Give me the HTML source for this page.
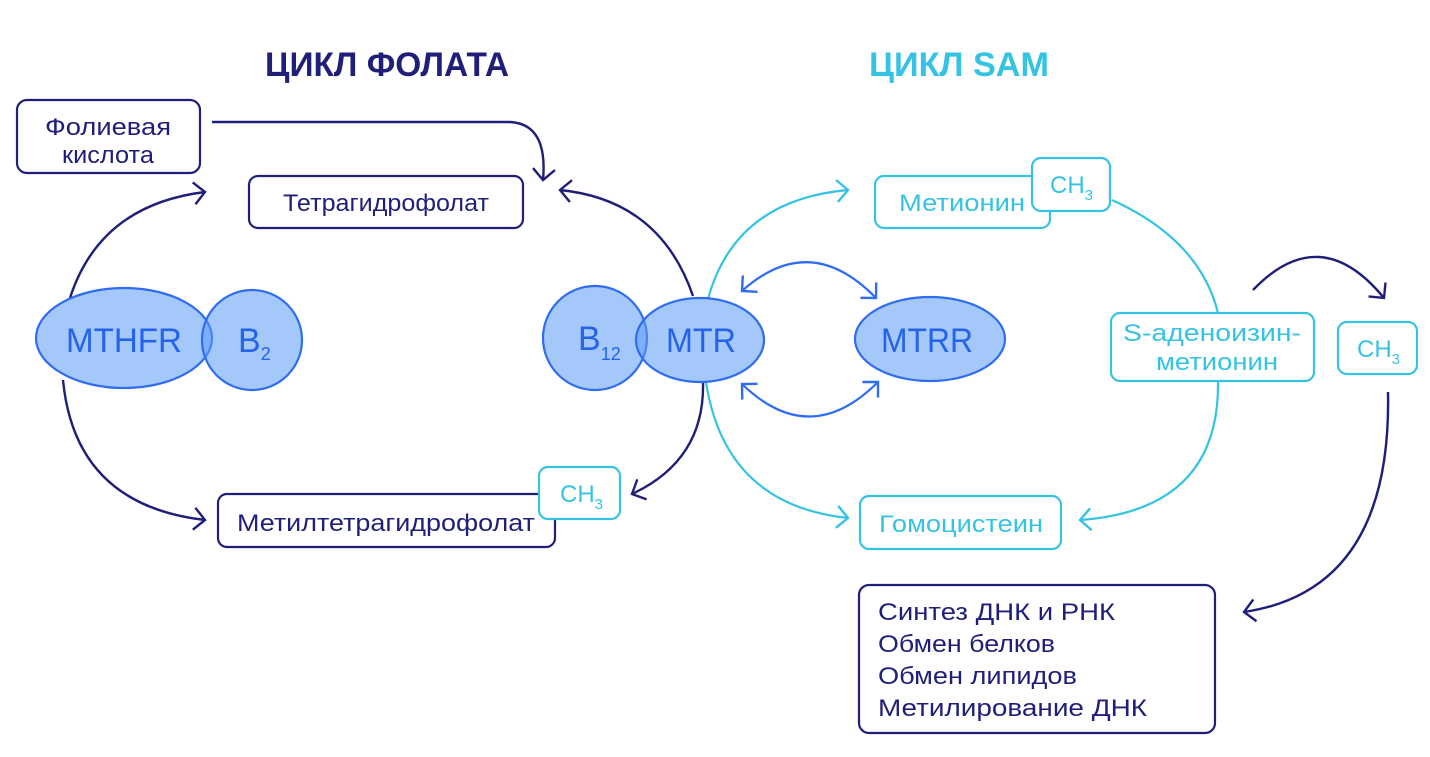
<!DOCTYPE html>
<html><head><meta charset="utf-8"><style>
html,body{margin:0;padding:0;background:#fff;}
svg{display:block;}
text{font-family:"Liberation Sans Narrow","Liberation Sans",sans-serif;}
</style></head><body>
<svg width="1430" height="757" viewBox="0 0 1430 757" xmlns="http://www.w3.org/2000/svg">
<defs>
<marker id="an" markerWidth="30" markerHeight="30" refX="13" refY="13" orient="auto" markerUnits="userSpaceOnUse">
<path d="M2,2 L13,13 L2,24" fill="none" stroke="#1f1f7a" stroke-width="2.4"/></marker>
<marker id="ac" markerWidth="30" markerHeight="30" refX="13" refY="13" orient="auto" markerUnits="userSpaceOnUse">
<path d="M2,2 L13,13 L2,24" fill="none" stroke="#35c3e4" stroke-width="2.4"/></marker>
<marker id="ab" markerWidth="30" markerHeight="30" refX="13" refY="13" orient="auto" markerUnits="userSpaceOnUse">
<path d="M2,2 L13,13 L2,24" fill="none" stroke="#2f6cf0" stroke-width="2.4"/></marker>
<marker id="abs" markerWidth="30" markerHeight="30" refX="13" refY="13" orient="auto-start-reverse" markerUnits="userSpaceOnUse">
<path d="M2,2 L13,13 L2,24" fill="none" stroke="#2f6cf0" stroke-width="2.4"/></marker>
</defs>

<text x="387" y="76" font-size="34" font-weight="bold" fill="#1f1f7a" text-anchor="middle" textLength="244" lengthAdjust="spacingAndGlyphs">ЦИКЛ ФОЛАТА</text>
<text x="959" y="76" font-size="34" font-weight="bold" fill="#35c3e4" text-anchor="middle" textLength="180" lengthAdjust="spacingAndGlyphs">ЦИКЛ SAM</text>

<g fill="none" stroke="#1f1f7a" stroke-width="2.4">
<path d="M212,122 L510,122 Q548,124 543,180" marker-end="url(#an)"/>
<path d="M70,298 Q100,205 205,192" marker-end="url(#an)"/>
<path d="M63,380 Q75,505 205,520" marker-end="url(#an)"/>
<path d="M693,296 Q660,200 560,190" marker-end="url(#an)"/>
<path d="M703,382 Q705,460 632,494" marker-end="url(#an)"/>
<path d="M1253,290 Q1320,220 1384,298" marker-end="url(#an)"/>
<path d="M1388,392 Q1392,590 1244,612" marker-end="url(#an)"/>
</g>
<g fill="none" stroke="#35c3e4" stroke-width="2.2">
<path d="M708,299 Q735,200 848,190" marker-end="url(#ac)"/>
<path d="M706,382 Q725,505 848,518" marker-end="url(#ac)"/>
<path d="M1112,200 Q1200,240 1218,313"/>
<path d="M1218,381 Q1220,510 1080,520" marker-end="url(#ac)"/>
</g>
<g fill="none" stroke="#2f6cf0" stroke-width="2.2">
<path d="M742,291 Q810,230 876,298" marker-start="url(#abs)" marker-end="url(#ab)"/>
<path d="M742,384 Q810,450 878,382" marker-start="url(#abs)" marker-end="url(#ab)"/>
</g>

<g fill="#5b9af7" fill-opacity="0.55" stroke="#2f6cf0" stroke-width="2.2">
<ellipse cx="124" cy="338" rx="88" ry="50"/>
<circle cx="252" cy="340" r="50"/>
<circle cx="595" cy="338" r="52"/>
<ellipse cx="700" cy="340" rx="64" ry="42"/>
<ellipse cx="930" cy="339" rx="75" ry="42"/>
</g>
<g fill="#2563e8" font-size="34">
<text x="124" y="352" text-anchor="middle" textLength="116" lengthAdjust="spacingAndGlyphs">MTHFR</text>
<text x="238" y="352">B<tspan font-size="18" dy="8">2</tspan></text>
<text x="578" y="350">B<tspan font-size="18" dy="10">12</tspan></text>
<text x="701" y="352" text-anchor="middle" textLength="70" lengthAdjust="spacingAndGlyphs">MTR</text>
<text x="927" y="352" text-anchor="middle" textLength="92" lengthAdjust="spacingAndGlyphs">MTRR</text>
</g>

<g fill="#fff" stroke="#1f1f7a" stroke-width="2.2">
<rect x="17" y="100" width="183" height="73" rx="10"/>
<rect x="249" y="176" width="274" height="52" rx="9"/>
<rect x="218" y="494" width="337" height="53" rx="9"/>
<rect x="859" y="585" width="356" height="148" rx="10"/>
</g>
<g fill="#1f1f7a" font-size="24">
<text x="108" y="135" text-anchor="middle" textLength="126" lengthAdjust="spacingAndGlyphs">Фолиевая</text>
<text x="108" y="163" text-anchor="middle" textLength="92" lengthAdjust="spacingAndGlyphs">кислота</text>
<text x="386" y="211" text-anchor="middle" textLength="206" lengthAdjust="spacingAndGlyphs">Тетрагидрофолат</text>
<text x="386" y="531" text-anchor="middle" textLength="298" lengthAdjust="spacingAndGlyphs">Метилтетрагидрофолат</text>
<text x="878" y="620" textLength="237" lengthAdjust="spacingAndGlyphs">Синтез ДНК и РНК</text>
<text x="878" y="652" textLength="177" lengthAdjust="spacingAndGlyphs">Обмен белков</text>
<text x="878" y="684" textLength="199" lengthAdjust="spacingAndGlyphs">Обмен липидов</text>
<text x="878" y="716" textLength="269" lengthAdjust="spacingAndGlyphs">Метилирование ДНК</text>
</g>

<g fill="#fff" stroke="#35c3e4" stroke-width="2.2">
<rect x="539" y="467" width="81" height="52" rx="9"/>
<rect x="875" y="176" width="175" height="52" rx="9"/>
<rect x="1032" y="158" width="78" height="53" rx="9"/>
<rect x="1111" y="313" width="203" height="68" rx="9"/>
<rect x="1338" y="322" width="79" height="52" rx="9"/>
<rect x="860" y="496" width="201" height="53" rx="9"/>
</g>
<g fill="#35c3e4" font-size="24">
<text x="560" y="502">CH<tspan font-size="15" dy="7">3</tspan></text>
<text x="962" y="211" text-anchor="middle" textLength="126" lengthAdjust="spacingAndGlyphs">Метионин</text>
<text x="1050" y="193">CH<tspan font-size="15" dy="7">3</tspan></text>
<text x="1212" y="341" text-anchor="middle" textLength="178" lengthAdjust="spacingAndGlyphs">S-аденоизин-</text>
<text x="1217" y="370" text-anchor="middle" textLength="122" lengthAdjust="spacingAndGlyphs">метионин</text>
<text x="1357" y="357">CH<tspan font-size="15" dy="7">3</tspan></text>
<text x="961" y="532" text-anchor="middle" textLength="164" lengthAdjust="spacingAndGlyphs">Гомоцистеин</text>
</g>
</svg>
</body></html>
